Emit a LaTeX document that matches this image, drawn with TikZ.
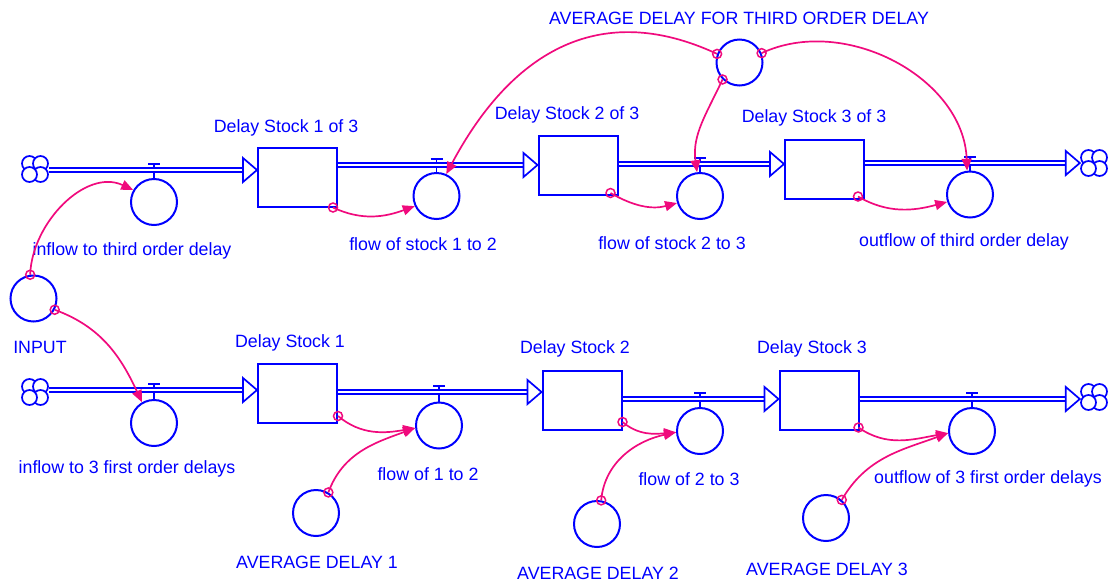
\documentclass[tikz,border=0pt]{standalone}
\usepackage{fontspec}
\setmainfont{Liberation Sans}
\usetikzlibrary{arrows.meta}
\definecolor{vblue}{RGB}{0,0,255}
\definecolor{vpink}{RGB}{240,10,125}
\newcommand\pipehead[1]{\draw[draw=vblue, line width=1.7pt, fill=white, line join=miter] (#1) -- ++(-14,12) -- ++(0,-24) -- cycle;}
\newcommand\valvetee[2]{\path (#1.north |- #2) ++(0,6) coordinate (#1t);
  \draw[draw=vblue, line width=1.6pt] (#1.north) -- (#1t);
  \draw[draw=vblue, line width=1.6pt] (#1t) ++(-6,0) -- ++(12,0);}
\begin{document}
\begin{tikzpicture}[x=1pt,y=1pt,
  bl/.style={draw=vblue, line width=2pt},
  stockbox/.style={bl, rectangle, minimum width=79pt, minimum height=59pt, inner sep=0pt},
  varc/.style={bl, circle, minimum size=46pt, inner sep=0pt},
  cloudnode/.style={circle, minimum size=28pt, inner sep=0pt},
  lbl/.style={text=vblue, font=\fontsize{17.8}{20}\selectfont, inner sep=0pt},
  pipe/.style={draw=vblue, line width=1.6pt, double=white, double distance=2.2pt},
  link/.style={draw=vpink, line width=1.7pt, -{Triangle[length=12pt,width=10pt]}},
  ringst/.style={draw=vpink, line width=1.5pt},
  vcloud/.pic={\foreach \a/\b in {-5.5/5.5,5.5/5.5,5.5/-5.5,-5.5/-5.5} \draw[draw=vblue, line width=1.7pt, fill=white] (\a,\b) circle (7.5);},
]
\useasboundingbox (0,0) rectangle (1113,-582);

% ---------- top row ----------
\coordinate (p1) at (0,-170);
\coordinate (p2) at (0,-165);
\coordinate (p3) at (0,-164);
\coordinate (p4) at (0,-163);
\node[cloudnode] (c1) at (35,-169) {};
\node[cloudnode] (c2) at (1094,-163) {};
\node[stockbox] (b1) at (297.5,-177) {};
\node[stockbox] (b2) at (578,-165.5) {};
\node[stockbox] (b3) at (824.5,-169) {};
\node[varc] (v1) at (154,-202) {};
\node[varc] (v2) at (436.5,-196) {};
\node[varc] (v3) at (700,-196) {};
\node[varc] (v4) at (970,-194.5) {};
\node[varc] (avg) at (739.5,-62.5) {};
\node[varc] (input) at (33.5,-298.5) {};

\valvetee{v1}{p1}
\valvetee{v2}{p2}
\valvetee{v3}{p3}
\valvetee{v4}{p4}

\draw[pipe, shorten >=13pt] (c1.east |- p1) -- (b1.west |- p1);
\pipehead{b1.west |- p1}
\draw[pipe, shorten >=13pt] (b1.east |- p2) -- (b2.west |- p2);
\pipehead{b2.west |- p2}
\draw[pipe, shorten >=13pt] (b2.east |- p3) -- (b3.west |- p3);
\pipehead{b3.west |- p3}
\draw[pipe, shorten >=13pt] (b3.east |- p4) -- (c2.west |- p4);
\pipehead{c2.west |- p4}
\pic at (c1) {vcloud};
\pic at (c2) {vcloud};

% ---------- bottom row ----------
\coordinate (q1) at (0,-390);
\coordinate (q2) at (0,-392);
\coordinate (q3) at (0,-399);
\coordinate (q4) at (0,-399);
\node[cloudnode] (c3) at (35,-392) {};
\node[cloudnode] (c4) at (1094,-397) {};
\node[stockbox] (d1) at (297.5,-393.5) {};
\node[stockbox] (d2) at (582,-400.5) {};
\node[stockbox] (d3) at (819,-400) {};
\node[varc] (w1) at (154,-423) {};
\node[varc] (w2) at (439,-425.5) {};
\node[varc] (w3) at (700,-431) {};
\node[varc] (w4) at (972,-431) {};
\node[varc] (a1) at (316,-513) {};
\node[varc] (a2) at (597,-524) {};
\node[varc] (a3) at (826,-518) {};

\valvetee{w1}{q1}
\valvetee{w2}{q2}
\valvetee{w3}{q3}
\valvetee{w4}{q4}

\draw[pipe, shorten >=13pt] (c3.east |- q1) -- (d1.west |- q1);
\pipehead{d1.west |- q1}
\draw[pipe, shorten >=13pt] (d1.east |- q2) -- (d2.west |- q2);
\pipehead{d2.west |- q2}
\draw[pipe, shorten >=13pt] (d2.east |- q3) -- (d3.west |- q3);
\pipehead{d3.west |- q3}
\draw[pipe, shorten >=13pt] (d3.east |- q4) -- (c4.west |- q4);
\pipehead{c4.west |- q4}
\pic at (c3) {vcloud};
\pic at (c4) {vcloud};

% ---------- labels ----------
\node[lbl] (l1) at (739,-18) {AVERAGE DELAY FOR THIRD ORDER DELAY};
\node[lbl] (l2) at (286,-128) {Delay Stock 1 of 3};
\node[lbl] (l3) at (567,-115) {Delay Stock 2 of 3};
\node[lbl] (l4) at (814,-118) {Delay Stock 3 of 3};
\node[lbl] (l5) at (132,-251) {inflow to third order delay};
\node[lbl] (l6) at (423,-244) {flow of stock 1 to 2};
\node[lbl] (l7) at (672,-243) {flow of stock 2 to 3};
\node[lbl] (l8) at (964,-242) {outflow of third order delay};
\node[lbl] (l9) at (40,-347) {INPUT};
\node[lbl] (l10) at (290,-343) {Delay Stock 1};
\node[lbl] (l11) at (575,-349) {Delay Stock 2};
\node[lbl] (l12) at (812,-349) {Delay Stock 3};
\node[lbl] (l13) at (127,-469) {inflow to 3 first order delays};
\node[lbl] (l14) at (428,-474) {flow of 1 to 2};
\node[lbl] (l15) at (689,-479) {flow of 2 to 3};
\node[lbl] (l16) at (988,-479) {outflow of 3 first order delays};
\node[lbl] (l17) at (317,-562) {AVERAGE DELAY 1};
\node[lbl] (l18) at (598,-573) {AVERAGE DELAY 2};
\node[lbl] (l19) at (827,-569) {AVERAGE DELAY 3};

% ---------- links ----------
\coordinate (r1) at (input.98);
\coordinate (r2) at (input.-28);
\coordinate (r3) at ([xshift=-5pt]b1.south east);
\coordinate (r4) at (avg.159);
\coordinate (r5) at (avg.225);
\coordinate (r6) at (avg.23);
\coordinate (r7) at ([shift={(-8,3)}]b2.south east);
\coordinate (r8) at ([shift={(-7,3)}]b3.south east);
\coordinate (r9) at ([yshift=8pt]d1.south east);
\coordinate (r10) at (a1.59);
\coordinate (r11) at ([yshift=9pt]d2.south east);
\coordinate (r12) at (a2.80);
\coordinate (r13) at ([shift={(-1,3)}]d3.south east);
\coordinate (r14) at (a3.49);

\draw[link] (r1) to[out=88, in=155] (v1.150);
\draw[link] (r2) to[out=-20, in=115] (w1.120);
\draw[link] (r3) to[out=-25, in=200] (v2.205);
\draw[link] (r4) to[out=155, in=62, looseness=1.15] (v2.66);
\draw[link] (r5) to[out=245, in=98] (v3.97);
\draw[link] (r6) to[out=25, in=92] (v4.97);
\draw[link] (r7) to[out=-30, in=195] (v3.197);
\draw[link] (r8) to[out=-30, in=195] (v4.198);
\draw[link] (r9) to[out=-40, in=190] (w2.186);
\draw[link] (r10) to[out=70, in=200] (w2.186);
\draw[link] (r11) to[out=-40, in=185] (w3.183);
\draw[link] (r12) to[out=85, in=192] (w3.183);
\draw[link] (r13) to[out=-35, in=190] (w4.185);
\draw[link] (r14) to[out=60, in=200] (w4.185);

\foreach \r in {r1,r2,r3,r4,r5,r6,r7,r8,r9,r10,r11,r12,r13,r14}
  \draw[ringst] (\r) circle (4.5);
\end{tikzpicture}
\end{document}
